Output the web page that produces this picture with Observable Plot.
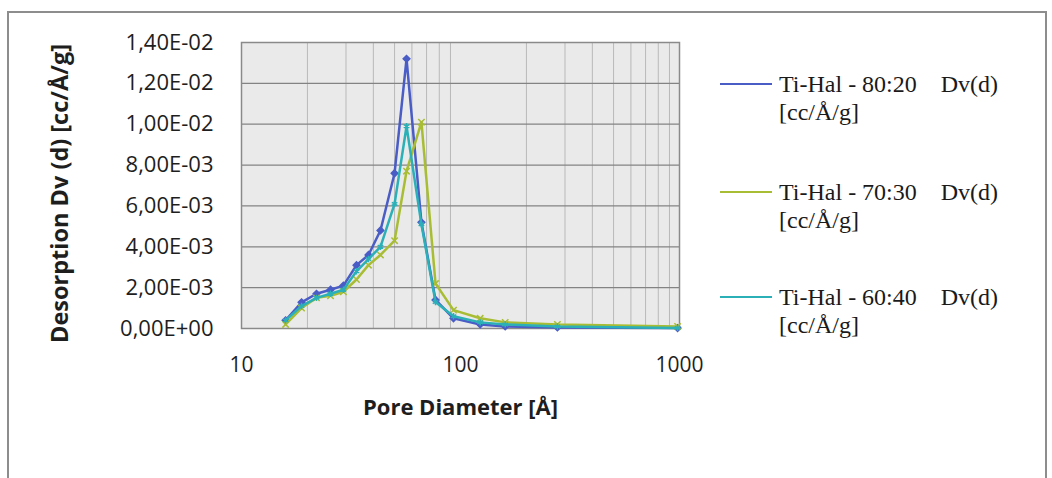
<!DOCTYPE html>
<html>
<head>
<meta charset="utf-8">
<script src="https://cdn.jsdelivr.net/npm/d3@7"></script>
<script src="https://cdn.jsdelivr.net/npm/@observablehq/plot@0.6"></script>
<style>
  html, body { margin: 0; padding: 0; background: #fff; }
  #wrap { position: relative; width: 1052px; height: 478px; overflow: hidden; }
  #border { position: absolute; left: 7px; top: 11px; width: 1036px; height: 480px; border: 2px solid #8d8d8d; border-bottom: none; }
  #chart { position: absolute; left: 0; top: 0; }
  .leg { position: absolute; left: 720px; font-family: "Liberation Serif", serif; font-size: 24px; color: #1a1a1a; line-height: 28px; }
  .leg .sw { position: absolute; left: 0; width: 52px; height: 0; border-top: 2.5px solid; }
  .leg .tx { position: absolute; left: 59px; top: 0; white-space: pre; }
</style>
</head>
<body>
<div id="wrap">
  <div id="border"></div>
  <div id="chart"></div>
</div>
<script>
// ---- data ----
const poreDiameter = [15.9, 18.8, 22.0, 25.5, 29.2, 33.5, 38.0, 43.1, 50.0, 56.7, 66.3, 76.9, 92.9, 123, 160, 277, 980];
const dv8020 = [0.0004, 0.00128, 0.0017, 0.0019, 0.0021, 0.0031, 0.0036, 0.0048, 0.0076, 0.0132, 0.0052, 0.0014, 0.0005, 0.0002, 0.0001, 0.00005, 0.00002];
const dv7030 = [0.0002, 0.0010, 0.0015, 0.0016, 0.0018, 0.0024, 0.0031, 0.0036, 0.0043, 0.0077, 0.0101, 0.0022, 0.0009, 0.0005, 0.0003, 0.0002, 0.0001];
const dv6040 = [0.0004, 0.0011, 0.0015, 0.0017, 0.0019, 0.0028, 0.0034, 0.0040, 0.0061, 0.0099, 0.0051, 0.0013, 0.0006, 0.0003, 0.0002, 0.0001, 0.00003];
const seriesNames = ["Ti-Hal - 80:20", "Ti-Hal - 70:30", "Ti-Hal - 60:40"];
const seriesColors = ["#4a5cc6", "#a9bd34", "#2bb0b8"];
const seriesSymbols = ["diamond2", "times", "asterisk"];
const yTicks = [0, 0.002, 0.004, 0.006, 0.008, 0.010, 0.012, 0.014];
const xTicks = [10, 100, 1000];
const xMinorTicks = [20, 30, 40, 50, 60, 70, 80, 90, 200, 300, 400, 500, 600, 700, 800, 900];
const xLabel = "Pore Diameter [Å]";
const yLabel = "Desorption Dv (d) [cc/Å/g]";
const unitLabel = "Dv(d)";
const unitLine2 = "[cc/Å/g]";

// ---- build table ----
const allSeries = [dv8020, dv7030, dv6040];
const rows = [];
allSeries.forEach((vals, s) => vals.forEach((v, i) => rows.push({series: seriesNames[s], d: poreDiameter[i], v})));

function sci(v) {
  if (v === 0) return "0,00E+00";
  const e = Math.floor(Math.log10(v) + 1e-9);
  const m = v / Math.pow(10, e);
  return m.toFixed(2).replace(".", ",") + "E" + (e < 0 ? "-" : "+") + String(Math.abs(e)).padStart(2, "0");
}

const marks = [
  Plot.frame({fill: "#eaeaea", stroke: null}),
  Plot.ruleX(xMinorTicks, {stroke: "#b9b9b9", strokeWidth: 1}),
  Plot.ruleY(yTicks, {stroke: "#838383", strokeWidth: 1.2}),
  Plot.frame({stroke: "#8a8a8a", strokeWidth: 1.5}),
  Plot.axisY(yTicks, {
    tickFormat: sci, tickSize: 0, tickPadding: 28, fontSize: 22,
    label: yLabel, labelAnchor: "center", labelArrow: "none", labelOffset: 190
  }),
  Plot.axisX(xTicks, {
    tickFormat: d => String(d), tickSize: 0, tickPadding: 29, fontSize: 21,
    label: xLabel, labelAnchor: "center", labelArrow: "none", labelOffset: 86
  })
];
seriesNames.forEach((name, s) => {
  const data = rows.filter(r => r.series === name);
  marks.push(Plot.line(data, {x: "d", y: "v", stroke: seriesColors[s], strokeWidth: 2.5}));
  marks.push(Plot.dot(data, {x: "d", y: "v", symbol: seriesSymbols[s], r: 3, stroke: seriesColors[s], fill: seriesColors[s], strokeWidth: 1.5}));
});

const chart = Plot.plot({
  width: 1052,
  height: 478,
  marginLeft: 241,
  marginRight: 373,
  marginTop: 42,
  marginBottom: 150,
  style: {fontFamily: "'Open Sans', sans-serif", fontSize: "20px", color: "#1e1e1e", background: "transparent"},
  x: {type: "log", domain: [10, 1000]},
  y: {domain: [0, 0.014]},
  marks
});
document.getElementById("chart").appendChild(chart);
chart.querySelectorAll('[aria-label="x-axis label"] text').forEach(t => {
  t.setAttribute("font-weight", "bold");
  t.setAttribute("font-size", "22");
});
chart.querySelectorAll('[aria-label="y-axis label"] text').forEach(t => {
  t.setAttribute("font-weight", "bold");
  t.setAttribute("font-size", "23.5");
  t.setAttribute("dx", "-8");
});

// ---- legend ----
const legTops = [70, 178, 283];
const wrap = document.getElementById("wrap");
seriesNames.forEach((name, s) => {
  const div = document.createElement("div");
  div.className = "leg";
  div.style.top = legTops[s] + "px";
  const sw = document.createElement("div");
  sw.className = "sw";
  sw.style.borderColor = seriesColors[s];
  sw.style.top = "13px";
  const tx = document.createElement("div");
  tx.className = "tx";
  tx.textContent = name + "    " + unitLabel + "\n" + unitLine2;
  div.appendChild(sw);
  div.appendChild(tx);
  wrap.appendChild(div);
});
</script>
</body>
</html>
